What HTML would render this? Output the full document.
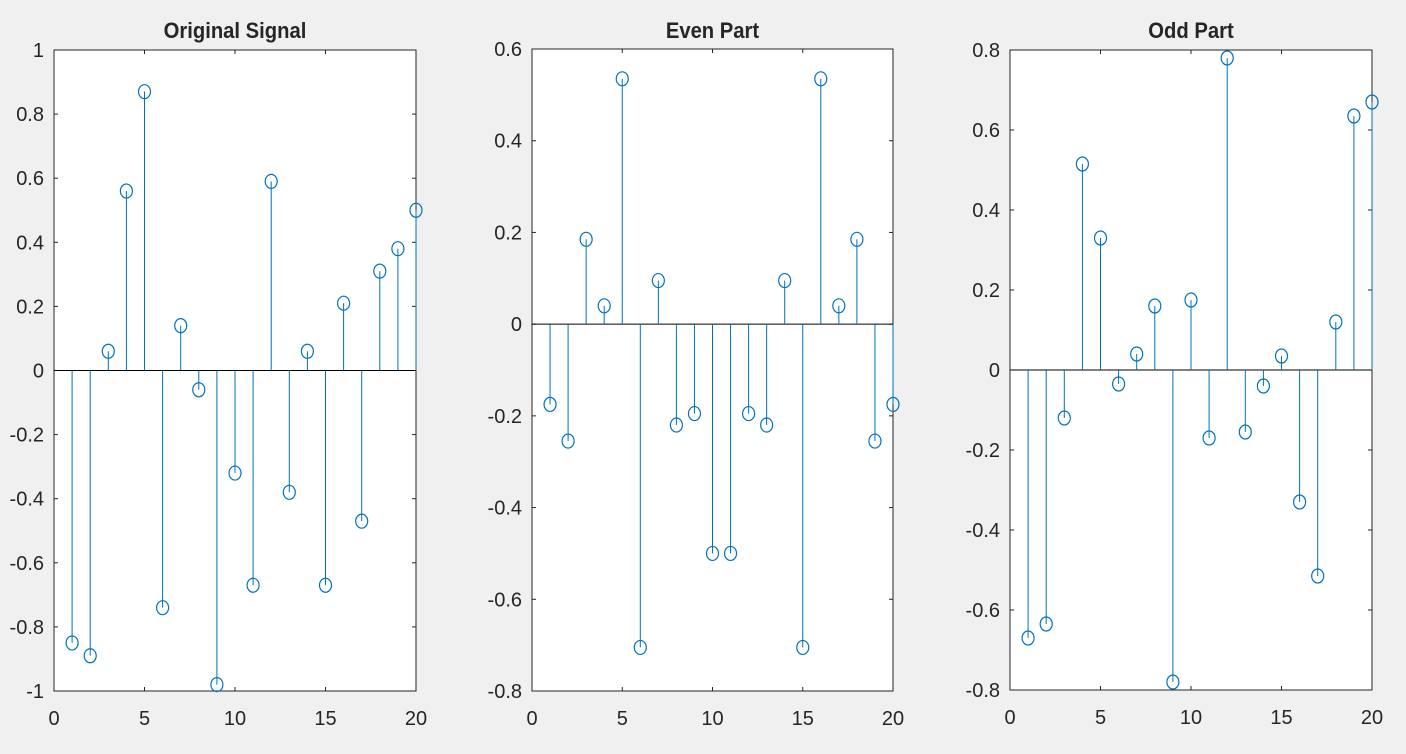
<!DOCTYPE html>
<html><head><meta charset="utf-8"><style>
html,body{margin:0;padding:0;background:#f0f0f0;width:1406px;height:754px;overflow:hidden}
svg text{font-family:"Liberation Sans",sans-serif;fill:#262626}
</style></head><body>
<svg id="s" width="1406" height="754" xmlns="http://www.w3.org/2000/svg"></svg>
<script>
const P=[
 {t:"Original Signal",l:54,r:416,top:50,bot:691,ymin:-1,ymax:1,
  d:[-0.85,-0.89,0.06,0.56,0.87,-0.74,0.14,-0.06,-0.98,-0.32,-0.67,0.59,-0.38,0.06,-0.67,0.21,-0.47,0.31,0.38,0.50]},
 {t:"Even Part",l:532,r:893,top:49,bot:691,ymin:-0.8,ymax:0.6,
  d:[-0.175,-0.255,0.185,0.04,0.535,-0.705,0.095,-0.22,-0.195,-0.5,-0.5,-0.195,-0.22,0.095,-0.705,0.535,0.04,0.185,-0.255,-0.175]},
 {t:"Odd Part",l:1010,r:1372,top:50,bot:690,ymin:-0.8,ymax:0.8,
  d:[-0.67,-0.635,-0.12,0.515,0.33,-0.035,0.04,0.16,-0.78,0.175,-0.17,0.78,-0.155,-0.04,0.035,-0.33,-0.515,0.12,0.635,0.67]}
];
let h="";
for(const p of P){
 const X=v=>p.l+(p.r-p.l)*v/20, Y=v=>p.bot-(p.bot-p.top)*(v-p.ymin)/(p.ymax-p.ymin);
 h+=`<rect x="${p.l}" y="${p.top}" width="${p.r-p.l}" height="${p.bot-p.top}" fill="#fff" stroke="#262626" stroke-width="1"/>`;
 h+=`<text x="${(p.l+p.r)/2}" y="38" font-size="22" font-weight="bold" text-anchor="middle" transform="translate(${(p.l+p.r)/2},0) scale(0.92,1) translate(${-(p.l+p.r)/2},0)">${p.t}</text>`;
 for(let i=0;i<=20;i+=5){const x=X(i);
  h+=`<line x1="${x}" y1="${p.bot}" x2="${x}" y2="${p.bot-4}" stroke="#262626"/><line x1="${x}" y1="${p.top}" x2="${x}" y2="${p.top+4}" stroke="#262626"/>`;
  h+=`<text x="${x}" y="${p.bot+34}" font-size="20" text-anchor="middle">${i}</text>`;}
 const n=Math.round((p.ymax-p.ymin)/0.2);
 for(let k=0;k<=n;k++){const v=+(p.ymin+k*0.2).toFixed(1),y=Y(v);
  h+=`<line x1="${p.l}" y1="${y}" x2="${p.l+4}" y2="${y}" stroke="#262626"/><line x1="${p.r}" y1="${y}" x2="${p.r-4}" y2="${y}" stroke="#262626"/>`;
  let s=v===0?"0":String(v).replace(/^(-?)0\./,"$10.");
  h+=`<text x="${p.l-10}" y="${y+7}" font-size="20" text-anchor="end">${s}</text>`;}
 h+=`<line x1="${p.l}" y1="${Y(0)}" x2="${p.r}" y2="${Y(0)}" stroke="#000" stroke-width="1"/>`;
 p.d.forEach((v,i)=>{const x=X(i+1),y=Y(v);
  h+=`<line x1="${x}" y1="${Y(0)}" x2="${x}" y2="${y}" stroke="#0072bd" stroke-width="1"/>`;
  h+=`<ellipse cx="${x}" cy="${y}" rx="6" ry="7" fill="none" stroke="#0072bd" stroke-width="1.2"/>`;});
}
document.getElementById("s").innerHTML=h;
</script>
</body></html>
